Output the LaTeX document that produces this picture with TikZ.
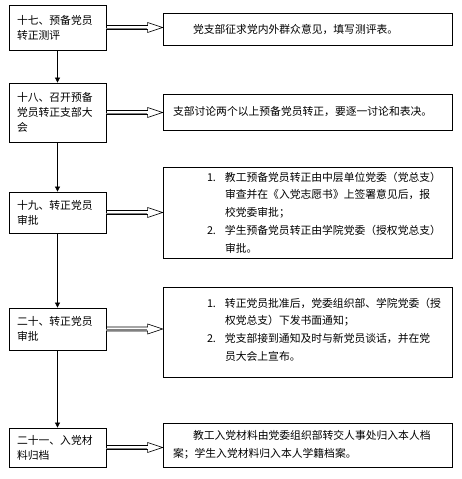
\documentclass[tikz,border=0pt]{standalone}
\usepackage{fontspec}
\setmainfont{Noto Sans CJK SC}
\usetikzlibrary{arrows.meta,calc}
\newcommand{\blkarrow}[2]{%
  \coordinate (s) at (#1.east);
  \coordinate (t) at (#2.west |- #1.east);
  \draw[barrowline] ($(s)+(0,-2)$) -- ($(t)+(-15,-2)$) -- ($(t)+(-15,-5)$) -- (t)
     -- ($(t)+(-15,5)$) -- ($(t)+(-15,2)$) -- ($(s)+(0,2)$);
  \draw[gray, line width=1.2pt] ($(s)+(0,0.9)$) -- ($(t)+(-15.4,0.9)$);
}
\begin{document}
\begin{tikzpicture}[x=1pt,y=-1pt,
  lbox/.style={draw, line width=0.8pt, minimum width=97pt, text width=81pt, inner xsep=8pt,
    align=left, font=\fontsize{10.8}{15}\selectfont},
  rbox/.style={draw, line width=0.8pt, minimum width=289pt, text width=281pt, inner xsep=4pt,
    align=left, font=\fontsize{10.8}{17.75}\selectfont},
  vline/.style={line width=0.7pt, -{Triangle[length=5pt,width=5pt]}},
  barrowline/.style={line width=0.6pt}]
\useasboundingbox (0,0) rectangle (462,479);
\fill[white] (0,0) rectangle (462,479);
% left boxes
\node[lbox, minimum height=45pt] (L1) at (57.5,27.5) {十七、预备党员\\转正测评};
\node[lbox, minimum height=59pt] (L2) at (57.5,112.5) {十八、召开预备\\党员转正支部大\\会};
\node[lbox, minimum height=41pt] (L3) at (57.5,212.5) {十九、转正党员\\审批};
\node[lbox, minimum height=42pt] (L4) at (57.5,329) {二十、转正党员\\审批};
\node[lbox, minimum height=39pt] (L5) at (57.5,447.5) {二十一、入党材\\料归档};
% right boxes
\node[rbox, minimum height=32pt] (R1) at (307.5,29) {\hspace*{26pt}党支部征求党内外群众意见，填写测评表。};
\node[rbox, minimum height=36pt] (R2) at (307.5,112) {\hspace*{6pt}支部讨论两个以上预备党员转正，要逐一讨论和表决。};
\node[rbox, minimum height=91pt] (R3) at (307.5,212.5) {%
  \hspace*{40pt}\makebox[18pt][l]{1.}教工预备党员转正由中层单位党委（党总支）\\
  \hspace*{58pt}审查并在《入党志愿书》上签署意见后，报\\
  \hspace*{58pt}校党委审批；\\
  \hspace*{40pt}\makebox[18pt][l]{2.}学生预备党员转正由学院党委（授权党总支）\\
  \hspace*{58pt}审批。};
\node[rbox, minimum height=90pt] (R4) at (307.5,332) {%
  \hspace*{40pt}\makebox[18pt][l]{1.}转正党员批准后，党委组织部、学院党委（授\\
  \hspace*{58pt}权党总支）下发书面通知；\\
  \hspace*{40pt}\makebox[18pt][l]{2.}党支部接到通知及时与新党员谈话，并在党\\
  \hspace*{58pt}员大会上宣布。\\[-12pt]\mbox{}};
\node[rbox, minimum height=44pt] (R5) at (307.5,445) {%
  \hspace*{26pt}教工入党材料由党委组织部转交人事处归入本人档\\
  \hspace*{6pt}案；学生入党材料归入本人学籍档案。};
% vertical arrows
\draw[vline] (L1.south) -- (L2.north);
\draw[vline] (L2.south) -- (L3.north);
\draw[vline] (L3.south) -- (L4.north);
\draw[vline] (L4.south) -- (L5.north);
% block arrows
\blkarrow{L1}{R1}
\blkarrow{L2}{R2}
\blkarrow{L3}{R3}
\blkarrow{L4}{R4}
\blkarrow{L5}{R5}
\end{tikzpicture}
\end{document}
